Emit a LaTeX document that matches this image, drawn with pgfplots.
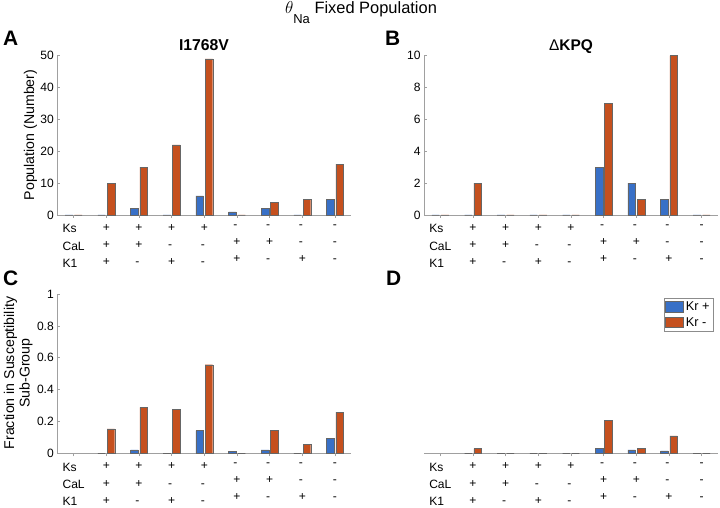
\documentclass[border=0pt]{standalone}
\usepackage{fontspec}
\setmainfont{Liberation Sans}
\usepackage{pgfplots}
\pgfplotsset{compat=1.18}
\definecolor{krp}{RGB}{56,112,199}
\definecolor{krm}{RGB}{197,80,30}
\definecolor{axgray}{RGB}{160,160,160}

\pgfplotsset{
 mybar/.style={
   scale only axis, width=294bp, height=159.3bp,
   anchor=south west,
   axis x line=bottom, axis y line=left,
   axis line style={-, draw=axgray, line width=0.6bp},
   xmin=0.5, xmax=9.5, ymin=0,
   xtick={1,...,9},
   xticklabels={{Ks\\CaL\\K1},{+\\+\\+},{+\\+\\-},{+\\-\\+},{+\\-\\-},{-\\+\\+},{-\\+\\-},{-\\-\\+},{-\\-\\-}},
   xticklabel style={align=left, font=\fontsize{12.1}{17.3}\selectfont, yshift=-3bp},
   yticklabel style={font=\fontsize{12.1}{13}\selectfont},
   /pgf/number format/assume math mode=true,
   tick align=inside, major tick length=3bp,
   tick style={draw=axgray, line width=0.6bp},
   ybar=1.7bp, bar width=7.6bp,
   clip=false,
 },
 pplus/.style={fill=krp, draw=black!60, line width=0.4bp},
 pminus/.style={fill=krm, draw=black!60, line width=0.4bp},
 krleg/.style={legend image code/.code={\draw[##1] (0bp,-5bp) rectangle (18bp,5.5bp);}},
}

\begin{document}
\begin{tikzpicture}
\useasboundingbox (0bp,0bp) rectangle (720bp,508bp);

% overall title
\node[anchor=base, font=\fontsize{16.5}{18}\selectfont, inner sep=0] at (361bp,494bp)
  {$\theta$\raisebox{-10bp}{\fontsize{13}{14}\selectfont Na} Fixed Population};

% panel letters
\node[anchor=base west, font=\bfseries\fontsize{21}{23}\selectfont, inner sep=0] at (3bp,462bp) {A};
\node[anchor=base west, font=\bfseries\fontsize{21}{23}\selectfont, inner sep=0] at (385bp,462bp) {B};
\node[anchor=base west, font=\bfseries\fontsize{21}{23}\selectfont, inner sep=0] at (3bp,222bp) {C};
\node[anchor=base west, font=\bfseries\fontsize{21}{23}\selectfont, inner sep=0] at (386bp,222bp) {D};

% panel titles
\node[anchor=base, font=\bfseries\fontsize{15.8}{17}\selectfont, inner sep=0] at (204bp,457.5bp) {I1768V};
\node[anchor=base, font=\bfseries\fontsize{15.5}{17}\selectfont, inner sep=0] at (571bp,457.5bp) {{\mdseries Δ}KPQ};

% y labels
\node[rotate=90, font=\fontsize{14.2}{15}\selectfont, inner sep=0] at (30.5bp,373bp) {Population (Number)};
\node[rotate=90, align=center, font=\fontsize{14.2}{15.6}\selectfont, inner sep=0] at (18.3bp,135bp) {Fraction in Susceptibility\\Sub-Group};

% Panel A
\begin{axis}[mybar, at={(57.3bp,293bp)}, ymax=50, ytick={0,10,20,30,40,50}]
\addplot[pplus] coordinates {(1,0)(2,0)(3,2)(4,0)(5,6)(6,1)(7,2)(8,0)(9,5)};
\addplot[pminus] coordinates {(1,0)(2,10)(3,15)(4,22)(5,49)(6,0)(7,4)(8,5)(9,16)};
\end{axis}

% Panel B
\begin{axis}[mybar, at={(424bp,293bp)}, ymax=10, ytick={0,2,4,6,8,10}]
\addplot[pplus] coordinates {(1,0)(2,0)(3,0)(4,0)(5,0)(6,3)(7,2)(8,1)(9,0)};
\addplot[pminus] coordinates {(1,0)(2,2)(3,0)(4,0)(5,0)(6,7)(7,1)(8,10)(9,0)};
\end{axis}

% Panel C
\begin{axis}[mybar, at={(57.3bp,54.7bp)}, ymax=1, ytick={0,0.2,0.4,0.6,0.8,1}]
\addplot[pplus] coordinates {(2,0)(3,0.022)(4,0)(5,0.143)(6,0.011)(7,0.022)(8,0)(9,0.095)};
\addplot[pminus] coordinates {(2,0.154)(3,0.288)(4,0.278)(5,0.556)(6,0)(7,0.143)(8,0.054)(9,0.258)};
\end{axis}

% Panel D
\begin{axis}[mybar, at={(424bp,54.7bp)}, ymax=1, axis y line=none,
   legend style={at={(rel axis cs:1,1)}, anchor=north east, xshift=-4.7bp, yshift=-4.3bp,
     draw=black!45, line width=0.5bp, font=\fontsize{12.8}{14}\selectfont,
     inner sep=1.5bp, row sep=1.2bp, legend cell align=left,
     /tikz/every even column/.append style={column sep=0.5bp}}]
\addplot[pplus, krleg]
  coordinates {(2,0)(3,0)(4,0)(5,0)(6,0.033)(7,0.022)(8,0.016)(9,0)};
\addlegendentry{Kr +}
\addplot[pminus, krleg]
  coordinates {(2,0.029)(3,0)(4,0)(5,0)(6,0.205)(7,0.033)(8,0.109)(9,0)};
\addlegendentry{Kr -}
\end{axis}
\end{tikzpicture}
\end{document}
